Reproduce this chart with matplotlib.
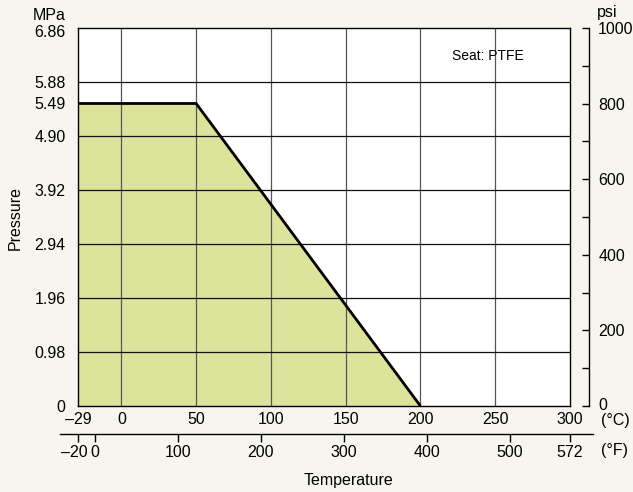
import matplotlib.pyplot as plt
import matplotlib.transforms as mtransforms
import numpy as np

# rating curve (seat: PTFE)
temp_c = [-29, 50, 200]
pressure_mpa = [5.49, 5.49, 0.0]

mpa_ticks = [0, 0.98, 1.96, 2.94, 3.92, 4.90, 5.49, 5.88, 6.86]
mpa_labels = ['0', '0.98', '1.96', '2.94', '3.92', '4.90', '5.49', '5.88', '6.86']
mpa_grid = [0.98, 1.96, 2.94, 3.92, 4.90, 5.88]
c_ticks = [-29, 0, 50, 100, 150, 200, 250, 300]
c_grid = [0, 50, 100, 150, 200, 250]
f_ticks = [-20, 0, 100, 200, 300, 400, 500, 572]
psi_major = [0, 200, 400, 600, 800, 1000]
psi_minor = [100, 300, 500, 700, 900]

bg = '#f6f5ee'
fill_color = '#dce39b'

plt.rcParams['font.family'] = ['Liberation Sans', 'DejaVu Sans']
plt.rcParams['font.size'] = 11.5

W, H = 633, 492
fig = plt.figure(figsize=(W / 100, H / 100), dpi=100, facecolor=bg)

# plot area in pixels
px_l, px_r, px_t, px_b = 78, 570, 28, 406
ax = fig.add_axes([px_l / W, 1 - px_b / H, (px_r - px_l) / W, (px_b - px_t) / H])
ax.set_facecolor('white')
ax.set_xlim(-29, 300)
ax.set_ylim(0, 6.86)

for g in c_grid:
    ax.axvline(g, color='#555555', lw=0.9, zorder=1)
for g in mpa_grid:
    ax.axhline(g, color='#111111', lw=0.9, zorder=1)

ax.fill_between(temp_c, pressure_mpa, 0, color=fill_color, lw=0, zorder=0.5)
ax.plot(temp_c, pressure_mpa, color='black', lw=2.0, zorder=3, solid_capstyle='butt')

for s in ax.spines.values():
    s.set_color('black')
    s.set_linewidth(1.0)

def fmt(t):
    return str(t).replace('-', '\u2013')

def nudge(label, dx, dy):
    label.set_transform(label.get_transform() +
                        mtransforms.ScaledTranslation(dx / 100, dy / 100, fig.dpi_scale_trans))

ax.set_yticks(mpa_ticks)
ax.set_yticklabels(mpa_labels)
ax.set_xticks(c_ticks)
ax.set_xticklabels([fmt(t) for t in c_ticks])
ax.tick_params(axis='y', length=0, pad=9)
ax.tick_params(axis='x', length=0, pad=4)
nudge(ax.get_yticklabels()[-1], 0, -3)

fig.text(66 / W, 1 - 15 / H, 'MPa', ha='right', va='center')
fig.text(15 / W, 1 - 218 / H, 'Pressure', rotation=90, ha='center', va='center')
fig.text(524 / W, 1 - 56 / H, 'Seat: PTFE', ha='right', va='center', fontsize=10)
fig.text(601 / W, 1 - 421 / H, '(\u00b0C)', ha='left', va='center')

# psi axis on the right
axp = fig.add_axes([588.5 / W, 1 - px_b / H, 0.00001, (px_b - px_t) / H])
axp.set_facecolor('none')
for k in ['left', 'top', 'bottom']:
    axp.spines[k].set_visible(False)
axp.spines['right'].set_linewidth(1.0)
axp.set_ylim(0, 1000)
axp.set_xticks([])
axp.yaxis.tick_right()
axp.set_yticks(psi_major)
axp.set_yticks(psi_minor, minor=True)
axp.tick_params(axis='y', which='both', direction='in', length=5, width=1.0, pad=7)
nudge(axp.get_yticklabels()[0], 0, 2)
fig.text(597 / W, 1 - 13 / H, 'psi', ha='left', va='center')

# Fahrenheit axis below
fx_l, fx_r, fy = 60, 593, 434
def px_to_c(x):
    return -29 + (x - px_l) / (px_r - px_l) * 329

axf = fig.add_axes([fx_l / W, 1 - fy / H, (fx_r - fx_l) / W, 0.00001])
axf.set_facecolor('none')
for k in ['left', 'right', 'top']:
    axf.spines[k].set_visible(False)
axf.spines['bottom'].set_linewidth(1.0)
axf.set_xlim(px_to_c(fx_l) * 1.8 + 32, px_to_c(fx_r) * 1.8 + 32)
axf.set_yticks([])
axf.set_xticks(f_ticks)
axf.set_xticklabels([fmt(t) for t in f_ticks])
axf.tick_params(axis='x', direction='out', length=6, width=1.0, pad=2)
# nudge the crowded -20 label to the left
nudge(axf.get_xticklabels()[0], -4, 0)
fig.text(601 / W, 1 - 450 / H, '(\u00b0F)', ha='left', va='center')

fig.text(348 / W, 1 - 480 / H, 'Temperature', ha='center', va='center')

fig.savefig('out.png', dpi=100, facecolor=bg)
